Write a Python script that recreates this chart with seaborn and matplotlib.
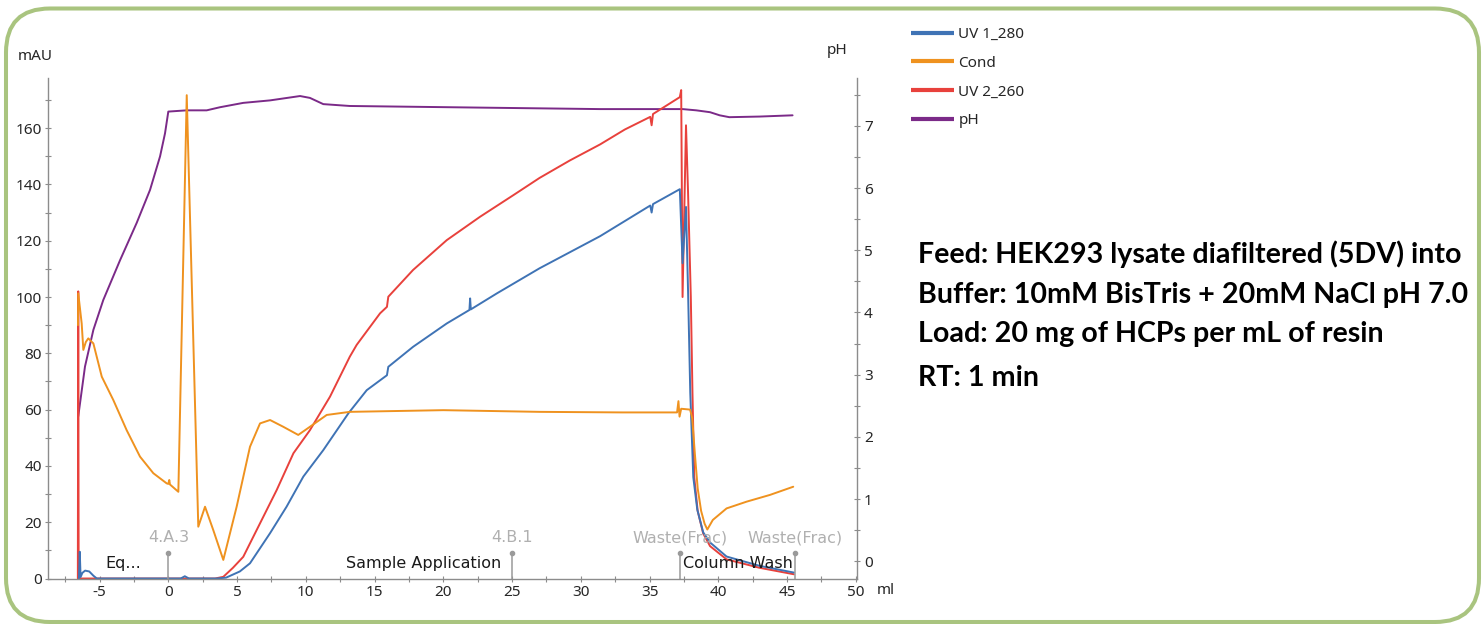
import numpy as np
import pandas as pd
import matplotlib
matplotlib.use("Agg")
import matplotlib.pyplot as plt
import matplotlib.patches as mpatches
import matplotlib.transforms as mtransforms
from matplotlib.lines import Line2D
from matplotlib.ticker import MultipleLocator
import seaborn as sns

# ---------------- data ----------------
uv1_ml = [-6.5, -6.44, -6.38, -6.25, -6.05, -5.75, -5.45, -5.2, 0.9, 1.2, 1.5, 3.5, 4.2,
          5.2, 5.94, 7.4, 8.6, 9.82, 11.27, 13.1, 14.43, 15.76, 15.9, 16.0, 17.8,
          20.25, 21.9, 21.95, 22.0, 23.9, 27.0, 31.4, 35.05, 35.15, 35.25, 37.2, 37.4,
          37.65, 37.8, 37.96, 38.18, 38.47, 38.9, 39.4, 40.6, 43.0, 45.5]
uv1_mau = [0, 9.5, 0.5, 2.0, 2.8, 2.5, 1.0, 0, 0, 0.8, 0, 0, 0.3,
           2.5, 5.4, 16.1, 25.5, 36.2, 45.6, 58.7, 66.9, 71.7, 72.2, 75.2, 82.3,
           90.6, 95.4, 99.5, 95.6, 101.3, 110.2, 121.6, 132.5, 130.0, 133.0, 138.3, 112.0,
           132.0, 102.0, 66.0, 36.0, 24.5, 16.4, 12.8, 7.8, 4.5, 2.1]

cond_ml = [-6.57, -6.55, -6.3, -6.18, -6.0, -5.82, -5.45, -4.84, -4.0, -3.03, -2.06, -1.09,
           -0.12, 0.0, 0.07, 0.12, 0.73, 1.34, 2.18, 2.67, 3.27, 4.0, 4.97, 5.94, 6.67, 7.4,
           8.36, 9.45, 10.3, 11.52, 13.2, 20.0, 27.0, 33.0, 37.0, 37.1, 37.18, 37.3, 37.95,
           38.1, 38.3, 38.5, 38.75, 39.0, 39.2, 39.6, 40.6, 42.06, 43.76, 45.45]
cond_mau = [90, 101.3, 90.6, 81.2, 84, 85.3, 83.5, 71.7, 63.4, 52.7, 43.3, 37.4,
            33.8, 33.6, 35, 33.4, 30.8, 171.7, 18.4, 25.5, 17.2, 6.6, 25.5, 46.8, 55.1, 56.3,
            53.9, 51.0, 53.9, 58.1, 59.2, 59.8, 59.2, 59.0, 59.0, 63, 57.5, 60.3, 60.0,
            57, 44, 32, 24, 19.5, 17.4, 20.8, 24.9, 27.3, 29.7, 32.6]

uv2_ml = [-6.58, -6.55, -6.52, 3.4, 4.0, 4.7, 5.45, 6.67, 7.88, 9.1, 10.3, 11.76, 13.2,
          13.7, 15.4, 15.9, 16.0, 17.8, 20.25, 22.67, 25.1, 27.0, 29.2, 31.4, 33.2, 35.05,
          35.15, 35.25, 37.2, 37.3, 37.4, 37.65, 37.8, 38.0, 38.12, 38.25, 38.5, 38.9, 39.4,
          40.6, 43.0, 45.5]
uv2_mau = [0, 102, 0, 0, 0.6, 3.8, 7.7, 19.6, 31.4, 44.5, 52.7, 64.6, 78.8,
           83.0, 94.2, 96.5, 100.1, 109.6, 120.2, 128.5, 136.2, 142.3, 148.5, 154.2, 159.5, 164.0,
           161.0, 165.0, 171.0, 173.5, 100.0, 161.0, 137.0, 100.0, 66.0, 36.0, 24.0, 16.0, 11.5,
           6.8, 3.8, 1.5]

ph_ml = [-6.55, -6.06, -5.45, -4.73, -3.51, -2.30, -1.33, -0.6, -0.24, 0.0, 1.34, 2.79,
         3.76, 5.45, 7.4, 9.58, 10.3, 11.27, 13.2, 24.1, 31.4, 37.4, 38.4, 39.4, 40.1,
         40.8, 43.0, 45.4]
ph_val = [2.33, 3.13, 3.72, 4.2, 4.84, 5.44, 5.97, 6.51, 6.88, 7.23, 7.25, 7.25,
          7.30, 7.37, 7.41, 7.48, 7.45, 7.35, 7.32, 7.29, 7.27, 7.27, 7.25, 7.22, 7.17,
          7.14, 7.15, 7.17]

series_names = ["UV 1_280", "Cond", "UV 2_260", "pH"]
series_colors = ["#3f73b5", "#ef921f", "#e8413c", "#7b2a88"]

frac_ml = [0, 25, 37.2, 45.6]
frac_labels = ["4.A.3", "4.B.1", "Waste(Frac)", "Waste(Frac)"]
phase_start = [-6.5, 0, 37.2]
phase_end = [0, 37.2, 45.6]
phase_labels = ["Eq...", "Sample Application", "Column Wash"]

x_ticks = list(range(-5, 51, 5))
mau_ticks = list(range(0, 161, 20))
ph_ticks = list(range(0, 8))

notes = ["Feed: HEK293 lysate diafiltered (5DV) into",
         "Buffer: 10mM BisTris + 20mM NaCl pH 7.0",
         "Load: 20 mg of HCPs per mL of resin",
         "RT: 1 min"]

# ---------------- style ----------------
sns.set_style("white")
plt.rcParams['font.family'] = ['Noto Sans', 'DejaVu Sans']
plt.rcParams['axes.unicode_minus'] = False

W, H = 1483, 624
fig = plt.figure(figsize=(W / 100, H / 100), dpi=100)
ax = fig.add_axes([48 / W, 1 - 578.5 / H, (856.5 - 48) / W, (578.5 - 78) / H])
ax2 = ax.twinx()
ax.set_zorder(ax2.get_zorder() + 1)
ax.patch.set_visible(False)

LW = 1.4
sns.lineplot(x=ph_ml, y=ph_val, ax=ax2, color=series_colors[3], lw=LW,
             sort=False, estimator=None)
sns.lineplot(x=uv2_ml, y=uv2_mau, ax=ax, color=series_colors[2], lw=LW,
             sort=False, estimator=None)
sns.lineplot(x=uv1_ml, y=uv1_mau, ax=ax, color=series_colors[0], lw=LW,
             sort=False, estimator=None)
sns.lineplot(x=cond_ml, y=cond_mau, ax=ax, color=series_colors[1], lw=LW,
             sort=False, estimator=None)

ax.set_xlim(-8.75, 50.05)
ax.set_ylim(0, 177.8)
ax2.set_ylim(-0.278, 7.77)
ax.set_xticks(x_ticks)
ax.set_xticklabels([str(v) for v in x_ticks])
ax.xaxis.set_minor_locator(MultipleLocator(2.5))
ax.set_yticks(mau_ticks)
ax.yaxis.set_minor_locator(MultipleLocator(10))
ax2.set_yticks(ph_ticks)
ax2.yaxis.set_minor_locator(MultipleLocator(0.5))
ax.set_xlabel("")
ax.set_ylabel("")
ax2.set_ylabel("")

spine_c = "#8c8c8c"
for a in (ax, ax2):
    for s in a.spines.values():
        s.set_color(spine_c)
        s.set_linewidth(1.0)
ax.spines['top'].set_visible(False)
ax.spines['right'].set_visible(False)
for s in ('top', 'left', 'bottom'):
    ax2.spines[s].set_visible(False)

ax.tick_params(axis='both', which='both', direction='inout', length=4.7, width=0.8,
               color=spine_c, labelsize=11, labelcolor='#262626')
ax.tick_params(axis='x', which='both', bottom=True, pad=2.5)
ax.tick_params(axis='y', which='both', left=True, pad=2)
ax2.tick_params(axis='y', which='both', direction='inout', length=4.7, width=0.8,
                color=spine_c, labelsize=11, labelcolor='#262626', pad=3, right=True)

# fraction markers
ax.vlines(frac_ml, 0, 9.1, colors="#9a9a9a", lw=1.1)
ax.scatter(frac_ml, [9.1] * len(frac_ml), s=9, color="#9a9a9a", zorder=3)
for xm, lab in zip(frac_ml, frac_labels):
    ax.text(xm, 14.4, lab, ha='center', va='center', color='#b0b0b0',
            fontsize=11.5, family='DejaVu Sans')
for s0, s1, lab in zip(phase_start, phase_end, phase_labels):
    ax.text((s0 + s1) / 2, 5.5, lab, ha='center', va='center', color='#1a1a1a',
            fontsize=11.5, family='DejaVu Sans')

# axis titles
fig.text(35 / W, 1 - 57 / H, "mAU", ha='center', va='center', fontsize=11, color='#262626')
fig.text(837 / W, 1 - 51 / H, "pH", ha='center', va='center', fontsize=11, color='#262626')
fig.text(886 / W, 1 - 591 / H, "ml", ha='center', va='center', fontsize=11, color='#262626')

# legend
handles = [Line2D([], [], color=c, lw=3.0, solid_capstyle='butt') for c in series_colors]
fig.legend(handles, series_names, loc='upper left', bbox_to_anchor=(911 / W, 1 - 27 / H),
           bbox_transform=fig.transFigure, frameon=False, fontsize=11,
           handlelength=2.8, handletextpad=0.3, labelspacing=0.9,
           borderpad=0, borderaxespad=0, labelcolor='#262626')

# annotation block
baselines = [263.5, 303.5, 341.5, 385.5]
txts = [fig.text(918 / W, 1 - b / H, t, ha='left', va='baseline', fontsize=18,
                 fontweight='bold', family=['Lato', 'DejaVu Sans'], color='black')
        for t, b in zip(notes, baselines)]
fig.canvas.draw()
w0 = txts[0].get_window_extent().width
fs = 18 * 545 / w0
for t in txts:
    t.set_fontsize(fs)

# rounded green frame
frame = mpatches.FancyBboxPatch((6, 2), 1473, 613.5,
                                boxstyle="round,pad=0,rounding_size=44",
                                transform=mtransforms.IdentityTransform(),
                                fill=False, ec="#a9c47f", lw=2.9, clip_on=False)
fig.add_artist(frame)

fig.savefig("out.png", dpi=100)
